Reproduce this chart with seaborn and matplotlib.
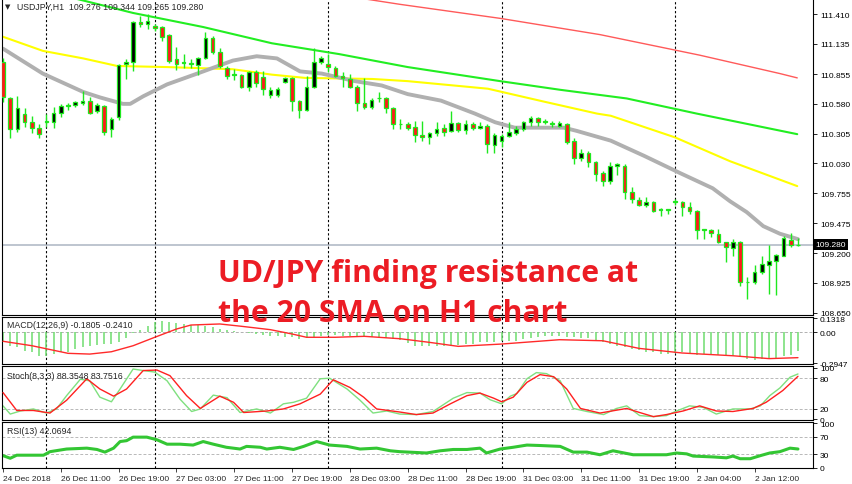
import numpy as np
import seaborn as sns
import matplotlib.pyplot as plt
from matplotlib.transforms import blended_transform_factory

# USDJPY H1 candles (index 0 = first visible bar)
opens = [110.97, 110.63, 110.35, 110.49, 110.41, 110.36, 110.41, 110.41, 110.50, 110.56,
         110.57, 110.59, 110.61, 110.51, 110.56, 110.35, 110.46, 110.95, 110.97, 111.34,
         111.32, 111.30, 111.29, 111.22, 110.99, 110.96, 110.96, 110.94, 111.00, 111.19,
         111.06, 110.91, 110.85, 110.85, 110.74, 110.87, 110.83, 110.66, 110.66, 110.78,
         110.82, 110.61, 110.52, 110.74, 110.97, 110.95, 110.91, 110.84, 110.81, 110.74,
         110.59, 110.55, 110.63, 110.63, 110.54, 110.39, 110.39, 110.37, 110.29, 110.27,
         110.31, 110.36, 110.33, 110.40, 110.34, 110.39, 110.36, 110.38, 110.20, 110.24,
         110.28, 110.31, 110.35, 110.41, 110.45, 110.41, 110.40, 110.38, 110.39, 110.24,
         110.08, 110.13, 110.04, 109.94, 109.87, 110.01, 110.01, 109.77, 109.69, 109.65,
         109.67, 109.60, 109.60, 109.67, 109.67, 109.63, 109.59, 109.41, 109.41, 109.38,
         109.30, 109.25, 109.30, 108.93, 108.93, 109.03, 109.09, 109.13, 109.17, 109.32,
         109.276]
highs = [111.00, 110.64, 110.65, 110.54, 110.47, 110.39, 110.49, 110.55, 110.58, 110.59,
         110.61, 110.70, 110.64, 110.59, 110.57, 110.46, 110.95, 110.99, 111.35, 111.39,
         111.41, 111.32, 111.30, 111.23, 111.11, 111.04, 110.99, 111.01, 111.24, 111.21,
         111.10, 110.93, 110.90, 110.86, 110.88, 110.89, 110.88, 110.74, 110.74, 110.83,
         110.83, 110.62, 110.84, 111.10, 111.02, 111.04, 110.93, 110.87, 110.86, 110.75,
         110.82, 110.63, 110.69, 110.64, 110.55, 110.44, 110.41, 110.42, 110.42, 110.32,
         110.41, 110.39, 110.51, 110.41, 110.43, 110.41, 110.41, 110.39, 110.31, 110.30,
         110.41, 110.38, 110.42, 110.47, 110.46, 110.44, 110.42, 110.42, 110.40, 110.26,
         110.16, 110.14, 110.05, 109.96, 110.04, 110.03, 110.02, 109.81, 109.72, 109.72,
         109.68, 109.62, 109.61, 109.70, 109.68, 109.67, 109.60, 109.42, 109.42, 109.42,
         109.30, 109.33, 109.31, 108.98, 109.09, 109.17, 109.28, 109.19, 109.36, 109.39,
         109.344]
lows = [110.60, 110.26, 110.32, 110.37, 110.31, 110.26, 110.37, 110.36, 110.46, 110.52,
        110.55, 110.57, 110.49, 110.50, 110.29, 110.27, 110.43, 110.81, 110.88, 111.29,
        111.27, 111.25, 111.16, 110.96, 110.89, 110.91, 110.91, 110.85, 110.99, 111.04,
        110.91, 110.81, 110.80, 110.73, 110.70, 110.74, 110.66, 110.63, 110.64, 110.77,
        110.51, 110.45, 110.51, 110.73, 110.95, 110.87, 110.83, 110.74, 110.73, 110.51,
        110.53, 110.53, 110.60, 110.50, 110.35, 110.35, 110.34, 110.23, 110.24, 110.21,
        110.28, 110.28, 110.32, 110.32, 110.30, 110.34, 110.35, 110.13, 110.13, 110.18,
        110.27, 110.29, 110.33, 110.38, 110.38, 110.39, 110.37, 110.37, 110.21, 110.02,
        110.05, 110.00, 109.87, 109.82, 109.84, 109.92, 109.70, 109.66, 109.64, 109.63,
        109.58, 109.54, 109.56, 109.65, 109.54, 109.56, 109.33, 109.33, 109.35, 109.29,
        109.12, 109.17, 108.90, 108.78, 108.92, 109.01, 108.82, 108.81, 109.17, 109.26,
        109.265]
closes = [110.64, 110.35, 110.54, 110.41, 110.36, 110.30, 110.42, 110.50, 110.56, 110.57,
          110.60, 110.61, 110.50, 110.57, 110.32, 110.44, 110.94, 110.97, 111.34, 111.32,
          111.35, 111.28, 111.20, 110.98, 110.95, 110.96, 110.95, 111.00, 111.19, 111.06,
          110.93, 110.84, 110.85, 110.74, 110.87, 110.77, 110.72, 110.71, 110.72, 110.82,
          110.61, 110.52, 110.74, 110.97, 111.00, 110.92, 110.84, 110.82, 110.74, 110.59,
          110.55, 110.62, 110.63, 110.54, 110.39, 110.39, 110.36, 110.29, 110.27, 110.31,
          110.35, 110.32, 110.40, 110.34, 110.39, 110.36, 110.38, 110.21, 110.29, 110.28,
          110.32, 110.35, 110.41, 110.45, 110.41, 110.42, 110.39, 110.40, 110.23, 110.08,
          110.13, 110.04, 109.93, 109.87, 110.01, 110.02, 109.77, 109.70, 109.65, 109.67,
          109.59, 109.60, 109.60, 109.68, 109.63, 109.59, 109.41, 109.42, 109.39, 109.30,
          109.26, 109.30, 108.93, 108.93, 109.03, 109.10, 109.13, 109.18, 109.34, 109.28,
          109.280]

# moving averages (sampled along the drawn lines)
sma20_idx = [0, 5.5, 11.1, 13.4, 16.6, 17.6, 19.4, 22.7, 27.3, 31.8, 35.1, 37.9, 41.1, 44.1, 48.7,
             52.4, 56, 60.6, 65.3, 68.1, 70.8, 74.9, 77.6, 79.4, 84.1, 88.7, 93.7, 98.2, 100.6,
             102.9, 105.2, 107.5, 110]
sma20_val = [111.09, 110.86, 110.69, 110.64, 110.58, 110.58, 110.65, 110.76, 110.87, 110.98, 111.02,
             111.00, 110.88, 110.86, 110.79, 110.75, 110.67, 110.61, 110.49, 110.41, 110.36, 110.36,
             110.36, 110.33, 110.24, 110.10, 109.94, 109.80, 109.68, 109.58, 109.45, 109.38, 109.33]
sma50_idx = [0, 5.5, 11.1, 15.8, 22.7, 31.8, 37.2, 41.8, 51.1, 56, 67.1, 74.9, 82.2, 84.1, 93,
             100.6, 109.9]
sma50_val = [111.20, 111.07, 111.00, 110.93, 110.92, 110.90, 110.85, 110.82, 110.81, 110.79, 110.72,
             110.60, 110.49, 110.47, 110.27, 110.05, 109.82]
sma100_idx = [1, 10.2, 18, 27.7, 37.2, 46.5, 56, 68.8, 77.1, 86.3, 96, 109.9]
sma100_val = [111.71, 111.55, 111.42, 111.29, 111.14, 111.04, 110.92, 110.79, 110.71, 110.63,
              110.49, 110.30]
sma200_idx = [45.2, 54.9, 68.8, 82.6, 96.4, 107.5, 109.9]
sma200_val = [111.60, 111.50, 111.37, 111.22, 111.03, 110.86, 110.82]

price_ticks = [111.410, 111.135, 110.855, 110.580, 110.305, 110.030, 109.755, 109.475,
               109.200, 108.925, 108.650]
last_price = 109.280

# MACD(12,26,9)
macd_hist = [-0.086, -0.134, -0.143, -0.175, -0.191, -0.223, -0.229, -0.207, -0.191, -0.191,
             -0.159, -0.143, -0.128, -0.121, -0.112, -0.112, -0.090, -0.058, -0.007, 0.024,
             0.062, 0.100, 0.110, 0.100, 0.087, 0.078, 0.068, 0.068, 0.056, 0.046,
             0.030, 0.024, 0.014, -0.001, -0.007, -0.017, -0.027, -0.033, -0.039, -0.043,
             -0.048, -0.065, -0.058, -0.048, -0.039, -0.027, -0.027, -0.033, -0.033, -0.039,
             -0.048, -0.048, -0.048, -0.058, -0.065, -0.070, -0.100, -0.128, -0.134, -0.134,
             -0.128, -0.128, -0.128, -0.121, -0.112, -0.112, -0.096, -0.096, -0.090, -0.081,
             -0.081, -0.081, -0.065, -0.058, -0.048, -0.039, -0.033, -0.039, -0.048, -0.048,
             -0.058, -0.058, -0.071, -0.096, -0.112, -0.128, -0.143, -0.159, -0.166, -0.185,
             -0.191, -0.207, -0.207, -0.197, -0.191, -0.207, -0.216, -0.207, -0.207, -0.216,
             -0.223, -0.229, -0.238, -0.254, -0.260, -0.254, -0.248, -0.248, -0.223, -0.216,
             -0.1805]
macd_sig_idx = [0, 4, 9, 12, 15, 18, 21, 24, 26, 30, 33, 37, 40, 42, 46, 50, 55, 59, 63, 69, 77,
                83, 88, 94, 101, 106, 110]
macd_sig_val = [-0.086, -0.128, -0.200, -0.207, -0.185, -0.128, -0.048, 0.030, 0.068, 0.078, 0.056,
                0.024, -0.017, -0.048, -0.048, -0.039, -0.062, -0.096, -0.134, -0.112, -0.071,
                -0.081, -0.153, -0.197, -0.223, -0.250, -0.241]
macd_ticks = [0.1318, 0.0, -0.2947]
macd_labels = ["0.1318", "0.00", "-0.2947"]

# Stochastic(8,3,3)
stk_idx = [0, 1, 2.4, 4.2, 6, 7.4, 8.8, 10.7, 12, 13.4, 15, 16.2, 18, 19.4, 21, 22.7, 24.5, 26.1,
           27.3, 29.1, 31, 32.8, 35.1, 37, 38.8, 40.2, 42, 43.9, 45.2, 47.6, 49.4, 51.2, 53.1, 54.9,
           57.2, 59.5, 62.3, 64.2, 66, 67.4, 69, 70.2, 71.1, 72.5, 73.8, 75.2, 77.1, 78.9, 80.8,
           83.1, 84.9, 86.3, 88.1, 90, 91.8, 93.2, 95, 96.9, 98.7, 101, 103.4, 104.8, 106.1, 107.5,
           108.9, 110]
stk_val = [26, 10, 16, 20, 12, 20, 46, 78, 75, 43, 34, 59, 98, 95, 92, 75, 39, 15,
           20, 47, 42, 13, 20, 12, 30, 33, 41, 79, 80, 59, 37, 12, 16, 10,
           9, 15, 41, 52, 51, 38, 30, 45, 50, 79, 91, 89, 75, 21, 15,
           9, 21, 26, 7, 5, 7, 16, 26, 23, 10, 20, 20, 26, 46, 61,
           82, 88.35]
std_idx = [0, 1.9, 4.2, 6.5, 8.8, 11.6, 13.4, 15.3, 17.1, 19.4, 21.3, 23.1, 25.4, 27.3, 30, 31.9,
           33.3, 36.5, 38.8, 41.1, 43.9, 45.7, 48, 49.9, 51.7, 54.9, 57.2, 59.5, 61.9, 64.2, 66,
           67.9, 69, 70.6, 72.5, 74.3, 76.2, 78, 79.9, 82.6, 86.3, 88.1, 90, 91.8, 94.1, 96.4,
           98.7, 101, 103.8, 105.6, 107.9, 110]
std_val = [52, 17, 17, 12, 37, 79, 59, 45, 59, 95, 96, 85, 46, 21, 45, 33,
           13, 16, 20, 30, 49, 77, 62, 43, 20, 14, 9, 12, 30, 46, 51,
           41, 34, 43, 72, 87, 83, 59, 21, 12, 21, 13, 5, 9, 16, 26,
           16, 15, 21, 33, 56, 83.75]
stoch_ticks = [100, 80, 20, 0]

# RSI(13)
rsi_idx = [0, 1, 1.9, 4.2, 5.6, 6.5, 8.8, 11.6, 13, 14.1, 15.3, 16.2, 17.1, 18, 19.9, 21.3, 22.7,
           24.5, 26.3, 27.7, 29.1, 30.9, 32.8, 33.7, 35.6, 36.5, 38.3, 40.2, 41.6, 43.4, 45.2, 47.6,
           49.4, 51.7, 53.6, 54.9, 58.6, 60.5, 62.3, 64.2, 66, 66.9, 68.8, 70.6, 72.5, 74.3, 77.1,
           78.9, 80.8, 82.6, 84.4, 87.2, 91.8, 93.2, 94.6, 95.5, 98.3, 100.1, 101, 102, 103.4,
           104.8, 106.1, 107.5, 108.9, 110]
rsi_val = [27, 21, 28, 28, 28, 36, 42, 44, 41, 35, 44, 59, 61, 69, 69, 63, 53,
           53, 51, 59, 53, 46, 42, 48, 46, 42, 46, 41, 48, 59, 51, 48,
           42, 44, 38, 36, 33, 38, 41, 41, 44, 33, 42, 46, 51, 50, 48,
           35, 35, 29, 38, 29, 29, 33, 31, 26, 24, 22, 26, 20, 20,
           27, 33, 36, 44, 42.07]
rsi_ticks = [100, 70, 30, 0]

# time axis and day separators
date_idx = [0, 8, 16, 24, 32, 40, 48, 56, 64, 72, 80, 88, 96, 104]
date_labels = ["24 Dec 2018", "26 Dec 11:00", "26 Dec 19:00", "27 Dec 03:00", "27 Dec 11:00",
               "27 Dec 19:00", "28 Dec 03:00", "28 Dec 11:00", "28 Dec 19:00", "31 Dec 03:00",
               "31 Dec 11:00", "31 Dec 19:00", "2 Jan 04:00", "2 Jan 12:00"]
separator_idx = [6, 21, 45, 69, 93]

sns.set_style("white")
plt.rcParams['font.family'] = ['Liberation Sans', 'DejaVu Sans']

W, H = 852, 485
fig = plt.figure(figsize=(W / 100, H / 100), dpi=100)


def rect(top, bottom):
    # pixel rows of the reference -> figure fraction
    return [2 / W, 1 - bottom / H, 811 / W, (bottom - top) / H]


ax = fig.add_axes(rect(0, 316))
ax_macd = fig.add_axes(rect(318, 365))
ax_st = fig.add_axes(rect(367, 421))
ax_rsi = fig.add_axes(rect(423, 469))
panels = [ax, ax_macd, ax_st, ax_rsi]

WICK = '#1ee81e'
FS = 6

# candles
x = np.arange(len(closes))
o, h, l, c = (np.array(v) for v in (opens, highs, lows, closes))
up = c >= o
ax.vlines(x, l, h, color=WICK, lw=1.0, zorder=3)
ax.bar(x, np.maximum(np.abs(c - o), 0.004), bottom=np.minimum(o, c), width=0.5,
       color=np.where(up, 'black', '#ff1a1a'), edgecolor=WICK, linewidth=0.9, zorder=4)

sns.lineplot(x=sma200_idx, y=sma200_val, ax=ax, color='#ff5a5a', linewidth=1.0, zorder=2)
sns.lineplot(x=sma100_idx, y=sma100_val, ax=ax, color='#22ee22', linewidth=1.5, zorder=2)
sns.lineplot(x=sma50_idx, y=sma50_val, ax=ax, color='#ffff00', linewidth=1.5, zorder=2)
sns.lineplot(x=sma20_idx, y=sma20_val, ax=ax, color='#b0b0b0', linewidth=2.8, zorder=2)
ax.axhline(last_price, color='#b9c0cc', lw=1.3, zorder=1)
ax.set_ylim(108.629, 111.549)
ax.set_yticks(price_ticks)
ax.set_yticklabels([f"{t:.3f}" for t in price_ticks])
ax.text(0.004, 0.978, "\u25bc", transform=ax.transAxes, fontsize=5, va='center',
        family=['DejaVu Sans'])
ax.text(0.018, 0.978, "USDJPY,H1  109.276 109.344 109.265 109.280", transform=ax.transAxes,
        fontsize=FS + 0.3, va='center')
bt = blended_transform_factory(ax.transAxes, ax.transData)
ax.text(1.003, last_price, f"{last_price:.3f}", transform=bt, ha='left', va='center', color='white',
        fontsize=FS, zorder=10, bbox=dict(boxstyle='square,pad=0.25', fc='black', ec='none'))

# MACD
ax_macd.vlines(x, 0, macd_hist, color='#6fdc6f', lw=1.1, zorder=2)
sns.lineplot(x=macd_sig_idx, y=macd_sig_val, ax=ax_macd, color='#ff2a2a', linewidth=1.0, zorder=3)
ax_macd.axhline(0, color='#b0b0b0', lw=0.7, ls=(0, (3, 2)), zorder=1)
ax_macd.set_ylim(-0.301, 0.144)
ax_macd.set_yticks(macd_ticks)
ax_macd.set_yticklabels(macd_labels)
ax_macd.text(0.006, 0.83, "MACD(12,26,9) -0.1805 -0.2410", transform=ax_macd.transAxes,
             fontsize=FS + 0.3, va='center')

# Stochastic
for lvl in (80, 20):
    ax_st.axhline(lvl, color='#b8b8b8', lw=0.7, ls=(0, (3, 2)), zorder=1)
sns.lineplot(x=std_idx, y=std_val, ax=ax_st, color='#ff2020', linewidth=1.0, zorder=3)
sns.lineplot(x=stk_idx, y=stk_val, ax=ax_st, color='#7fe07f', linewidth=1.0, zorder=2)
ax_st.set_ylim(-1.6, 103.9)
ax_st.set_yticks(stoch_ticks)
ax_st.set_yticklabels([str(t) for t in stoch_ticks])
ax_st.text(0.006, 0.815, "Stoch(8,3,3) 88.3548 83.7516", transform=ax_st.transAxes,
           fontsize=FS + 0.3, va='center')

# RSI
for lvl in (70, 30):
    ax_rsi.axhline(lvl, color='#b8b8b8', lw=0.7, ls=(0, (3, 2)), zorder=1)
sns.lineplot(x=rsi_idx, y=rsi_val, ax=ax_rsi, color='#33c633', linewidth=2.2, zorder=2)
ax_rsi.set_ylim(-1.1, 103.4)
ax_rsi.set_yticks(rsi_ticks)
ax_rsi.set_yticklabels([str(t) for t in rsi_ticks])
ax_rsi.text(0.006, 0.826, "RSI(13) 42.0694", transform=ax_rsi.transAxes,
            fontsize=FS + 0.3, va='center')

# first/last labels of indicator scales sit inside the panel like MT4
for a in (ax_macd, ax_st, ax_rsi):
    labs = a.get_yticklabels()
    labs[0].set_va('top')
    if a is not ax_macd:
        labs[-1].set_va('bottom')

for a in panels:
    a.set_xlim(-0.14, 112.08)
    a.set_xlabel('')
    a.set_ylabel('')
    a.yaxis.tick_right()
    a.tick_params(axis='y', which='both', right=True, length=3, width=0.6, pad=2,
                  labelsize=FS, colors='black')
    a.tick_params(axis='x', bottom=False, labelbottom=False)
    for s in a.spines.values():
        s.set_color('black')
        s.set_linewidth(0.8)
    for sx in separator_idx:
        a.axvline(sx, color='black', lw=0.8, ls=(0, (2, 2)), zorder=1.5)
ax.spines['top'].set_visible(False)

ax_rsi.set_xticks(date_idx)
ax_rsi.set_xticklabels(date_labels, ha='left')
ax_rsi.tick_params(axis='x', bottom=True, labelbottom=True, length=3, width=0.6, pad=2,
                   labelsize=FS)

# annotation laid over the chart
red_font = dict(fontsize=21.7, weight='bold', color='#ec1c24', va='baseline',
                family=['Open Sans', 'DejaVu Sans'], zorder=20)
fig.text(218 / W, 1 - 282 / H, "UD/JPY finding resistance at", **red_font)
fig.text(218 / W, 1 - 322 / H, "the 20 SMA on H1 chart", **red_font)

fig.savefig("out.png", dpi=100)
